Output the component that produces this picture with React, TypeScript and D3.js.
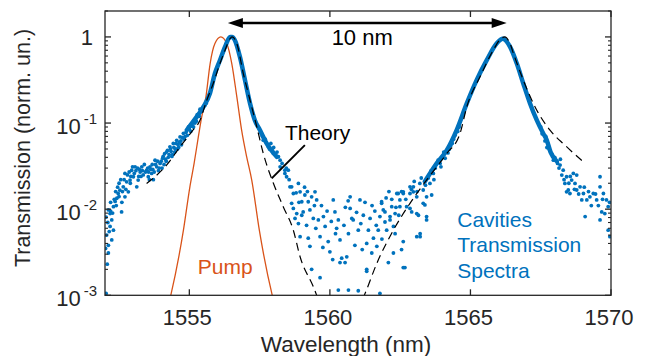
import React from 'react';
import * as d3 from 'd3';

const W = 647;
const H = 356;
const M = { left: 105, right: 611, top: 11, bottom: 295.3 };

const xDomain: [number, number] = [1552, 1570];
const yDomain: [number, number] = [1e-3, 2];
const xTicks = [1555, 1560, 1565, 1570];
const yTicks = [1, 0.1, 0.01, 0.001];
const yTickExp = [0, -1, -2, -3];

// Pump spectrum (orange)
const pumpWl = [1554.1, 1554.34, 1554.79, 1555.02, 1555.17, 1555.32, 1555.44, 1555.59, 1555.74, 1555.91, 1556.12, 1556.33, 1556.51, 1556.69, 1556.86, 1557.04, 1557.22, 1557.49, 1557.95, 1558.2];
const pumpT = [0.0005, 0.001, 0.0057, 0.0182, 0.034, 0.069, 0.118, 0.201, 0.491, 0.838, 1.0, 0.838, 0.491, 0.201, 0.0827, 0.0405, 0.0218, 0.0057, 0.001, 0.0005];

// Theory (black dashed)
const theoryWl = [1553.48, 1554.19, 1554.67, 1555.08, 1555.38, 1555.62, 1555.85, 1556.09, 1556.27, 1556.45, 1556.52, 1556.69, 1556.92, 1557.16, 1557.4, 1557.63, 1557.99, 1558.34, 1558.7, 1558.94, 1559.41, 1559.8, 1560.4, 1560.9, 1561.25, 1561.67, 1562.26, 1562.85, 1563.44, 1564.16, 1564.63, 1564.87, 1565.34, 1565.81, 1566.05, 1566.22, 1566.4, 1566.53, 1566.88, 1567.36, 1567.83, 1568.36, 1569.04];
const theoryT = [0.0199, 0.0325, 0.053, 0.079, 0.108, 0.184, 0.288, 0.491, 0.7, 0.958, 1.0, 0.838, 0.376, 0.184, 0.0903, 0.0444, 0.02, 0.0107, 0.0057, 0.0028, 0.00126, 0.0006, 0.0003, 0.0006, 0.00105, 0.00235, 0.00572, 0.0117, 0.0218, 0.0444, 0.0757, 0.154, 0.344, 0.7, 0.93, 1.0, 0.85, 0.642, 0.315, 0.141, 0.0827, 0.0554, 0.0349];

// Measured cavities transmission: dense parts of the trace
const coreLeftWl = [1554.91, 1555.26, 1555.5, 1555.73, 1555.91, 1556.09, 1556.27, 1556.45, 1556.52, 1556.62, 1556.8, 1556.98, 1557.16, 1557.33, 1557.51, 1557.75, 1558.11];
const coreLeftT = [0.083, 0.118, 0.154, 0.22, 0.376, 0.537, 0.766, 1.0, 1.0, 0.916, 0.586, 0.315, 0.169, 0.108, 0.083, 0.058, 0.0406];
const coreRightWl = [1563.38, 1563.56, 1563.8, 1564.16, 1564.51, 1564.87, 1565.22, 1565.58, 1565.93, 1566.15, 1566.41, 1566.65, 1566.88, 1567.12, 1567.36, 1567.59, 1567.71, 1567.85, 1568.07];
const coreRightT = [0.021, 0.026, 0.034, 0.0485, 0.083, 0.169, 0.315, 0.537, 0.838, 0.95, 0.766, 0.491, 0.288, 0.169, 0.108, 0.0757, 0.064, 0.046, 0.036];

// Measured cavities transmission: scattered samples
const spectrumScatter: [number, number][] = [
  // left edge
  [1552.04, 0.00105], [1552.08, 0.0023], [1552.12, 0.0031], [1552.12, 0.0038], [1552.24, 0.0044], [1552.3, 0.0057],
  [1552.18, 0.0063], [1552.24, 0.0075], [1552.04, 0.0081], [1552.12, 0.0098], [1552.18, 0.0089], [1552.3, 0.0107],
  [1552.36, 0.0123], [1552.42, 0.0134], [1552.47, 0.0152], [1552.59, 0.0093], [1552.53, 0.0166], [1552.65, 0.0182],
  [1552.71, 0.0139], [1552.77, 0.0208], [1552.83, 0.0159], [1552.71, 0.026], [1552.89, 0.0218], [1552.95, 0.0283],
  [1553.01, 0.0238], [1553.07, 0.031], [1553.13, 0.0182], [1553.18, 0.0218], [1553.25, 0.027], [1553.31, 0.031],
  [1553.36, 0.025], [1553.48, 0.0283], [1553.54, 0.0238], [1553.6, 0.031], [1553.66, 0.026], [1553.72, 0.022],
  [1552.02, 0.0035], [1552.06, 0.005], [1552.1, 0.007], [1552.15, 0.0055], [1552.2, 0.012], [1552.27, 0.009],
  [1552.33, 0.013], [1552.38, 0.016], [1552.45, 0.018], [1552.5, 0.02], [1552.56, 0.022], [1552.62, 0.016],
  [1552.68, 0.022], [1552.74, 0.017], [1552.8, 0.025], [1552.86, 0.027], [1552.92, 0.024], [1552.98, 0.031],
  [1553.04, 0.026], [1553.1, 0.028], [1553.16, 0.03], [1553.22, 0.029], [1553.28, 0.024], [1553.33, 0.028],
  [1553.44, 0.027], [1552.9, 0.02], [1553.2, 0.024], [1552.6, 0.012], [1552.5, 0.014], [1552.4, 0.011], [1552.2, 0.0095],
  // rising band of the first cavity
  [1553.78, 0.037], [1553.84, 0.031], [1553.96, 0.034], [1554.07, 0.041], [1554.19, 0.046], [1554.31, 0.053],
  [1554.43, 0.058], [1554.55, 0.063], [1554.67, 0.069], [1554.79, 0.076], [1553.9, 0.028], [1554.0, 0.036],
  [1554.1, 0.033], [1554.25, 0.04], [1554.35, 0.047], [1554.5, 0.05], [1554.6, 0.056], [1554.7, 0.062],
  [1554.85, 0.07], [1555.0, 0.085], [1555.1, 0.092], [1555.2, 0.1], [1555.3, 0.12], [1555.4, 0.135],
  [1553.4, 0.033], [1553.55, 0.027], [1553.7, 0.029], [1554.15, 0.038], [1554.4, 0.043], [1554.62, 0.052],
  [1553.52, 0.03], [1553.58, 0.022], [1553.63, 0.029], [1553.68, 0.033], [1553.75, 0.027], [1553.8, 0.033],
  [1553.87, 0.036], [1553.93, 0.03], [1554.03, 0.03], [1554.05, 0.039], [1554.12, 0.044], [1554.18, 0.036],
  [1554.22, 0.048], [1554.28, 0.043], [1554.33, 0.05], [1554.38, 0.041], [1554.45, 0.052], [1554.48, 0.046],
  [1554.53, 0.058], [1554.58, 0.05], [1554.65, 0.06], [1554.72, 0.056], [1554.75, 0.068], [1554.82, 0.065],
  [1554.88, 0.078], [1554.93, 0.072], [1554.97, 0.09], [1555.05, 0.08], [1555.08, 0.098], [1555.15, 0.09],
  [1555.18, 0.108], [1555.25, 0.105], [1555.28, 0.125], [1555.35, 0.12], [1555.38, 0.145], [1555.45, 0.14],
  [1555.55, 0.16], [1555.6, 0.17],
  // around the Theory pointer
  [1557.63, 0.0633], [1557.81, 0.053], [1557.99, 0.0444], [1558.17, 0.0406], [1558.23, 0.0371], [1558.4, 0.0284],
  [1558.46, 0.0238], [1558.58, 0.0182], [1558.7, 0.0152], [1558.64, 0.0117], [1558.88, 0.0068], [1557.6, 0.07],
  [1557.7, 0.065], [1557.85, 0.05], [1557.95, 0.048], [1558.05, 0.043], [1557.55, 0.078], [1557.9, 0.058],
  [1558.0, 0.052], [1558.12, 0.046], [1558.3, 0.034], [1558.45, 0.03],
  // middle region
  [1558.23, 0.031], [1558.4, 0.026], [1558.52, 0.0284], [1558.64, 0.0182], [1558.88, 0.0199], [1558.94, 0.0159],
  [1558.7, 0.0102], [1558.82, 0.0089], [1558.76, 0.0078], [1559.0, 0.0122], [1559.11, 0.0146], [1559.23, 0.0122],
  [1559.35, 0.0139], [1559.47, 0.0159], [1559.53, 0.0128], [1559.05, 0.0093], [1559.29, 0.0098], [1559.41, 0.0078],
  [1559.59, 0.0075], [1558.94, 0.0048], [1559.17, 0.0065], [1559.23, 0.0046], [1559.29, 0.0037], [1559.65, 0.0048],
  [1559.77, 0.0082], [1559.83, 0.0063], [1559.94, 0.0042], [1560.0, 0.0032], [1560.12, 0.0128], [1560.18, 0.0093],
  [1560.24, 0.006], [1560.36, 0.0044], [1560.42, 0.0027], [1560.54, 0.0024], [1560.6, 0.0028], [1560.72, 0.0139],
  [1560.72, 0.0102], [1560.78, 0.0078], [1560.83, 0.0075], [1560.66, 0.0052], [1560.89, 0.0038], [1561.01, 0.0057],
  [1561.07, 0.0128], [1561.19, 0.0085], [1561.31, 0.004], [1561.37, 0.0057], [1561.43, 0.0078], [1561.49, 0.0031],
  [1561.31, 0.002], [1561.67, 0.0037], [1561.72, 0.0057], [1561.78, 0.0082], [1561.84, 0.0122], [1561.9, 0.0098],
  [1561.96, 0.0071], [1562.02, 0.0057], [1562.14, 0.0075], [1562.2, 0.0107], [1562.26, 0.0063], [1562.32, 0.0089],
  [1562.38, 0.0152], [1562.49, 0.0128], [1562.61, 0.0159], [1562.73, 0.0107], [1562.85, 0.0152], [1562.91, 0.0093],
  [1562.97, 0.0182], [1563.09, 0.0139], [1563.15, 0.0085], [1563.21, 0.0052], [1563.32, 0.0167], [1563.38, 0.0112],
  [1563.44, 0.0082], [1563.62, 0.0146], [1562.26, 0.0031], [1562.08, 0.0024], [1562.61, 0.0021], [1562.61, 0.0042],
  [1563.09, 0.0048], [1559.65, 0.0016], [1559.35, 0.002], [1560.36, 0.0024], [1560.3, 0.00115], [1560.66, 0.00115],
  [1561.01, 0.00113], [1561.78, 0.00105], [1561.31, 0.0019],
  [1559.1, 0.018], [1559.2, 0.016], [1559.45, 0.011], [1559.7, 0.011], [1559.9, 0.0095], [1560.05, 0.0072],
  [1560.2, 0.0052], [1560.3, 0.0075], [1560.5, 0.0065], [1560.55, 0.0105], [1560.65, 0.0125], [1560.95, 0.0092],
  [1561.1, 0.0068], [1561.25, 0.012], [1561.5, 0.011], [1561.6, 0.0095], [1561.65, 0.0065], [1561.85, 0.0045],
  [1562.0, 0.0135], [1562.1, 0.016], [1562.2, 0.013], [1562.35, 0.0105], [1562.45, 0.0085], [1562.55, 0.016],
  [1562.7, 0.013], [1559.5, 0.006], [1559.75, 0.0036], [1560.1, 0.0026], [1561.15, 0.0034], [1561.55, 0.0046],
  [1558.9, 0.012], [1559.0, 0.0085], [1558.8, 0.0155], [1558.55, 0.022],
  // rising edge of the second cavity
  [1561.84, 0.0117], [1561.96, 0.0093], [1562.14, 0.0082], [1562.32, 0.0052], [1562.55, 0.0034], [1562.67, 0.0021],
  [1562.43, 0.0152], [1562.61, 0.0152], [1562.85, 0.0182], [1562.97, 0.0159], [1562.49, 0.0107], [1562.85, 0.0102],
  [1563.09, 0.0089], [1563.21, 0.0048], [1563.44, 0.0075], [1563.32, 0.0117], [1563.56, 0.0199], [1563.68, 0.026],
  [1563.92, 0.034], [1563.44, 0.0139], [1564.0, 0.04], [1564.3, 0.055], [1564.4, 0.065], [1563.75, 0.03],
  [1564.2, 0.045], [1563.2, 0.0199], [1563.5, 0.023], [1562.9, 0.017], [1563.0, 0.021], [1563.1, 0.016],
  [1563.25, 0.023], [1563.4, 0.019], [1563.6, 0.028], [1563.7, 0.022], [1563.85, 0.037], [1563.95, 0.031],
  [1564.05, 0.046], [1564.1, 0.039], [1564.25, 0.05], [1564.35, 0.058], [1564.45, 0.072], [1564.55, 0.08],
  [1564.6, 0.09],
  // right tail
  [1567.95, 0.0371], [1568.19, 0.0325], [1568.3, 0.0284], [1568.25, 0.0249], [1568.42, 0.0238], [1568.36, 0.0199],
  [1568.48, 0.0167], [1568.6, 0.0218], [1568.72, 0.0199], [1568.78, 0.0167], [1568.42, 0.0159], [1568.9, 0.0182],
  [1569.02, 0.0152], [1569.14, 0.0128], [1568.96, 0.0128], [1569.25, 0.0139], [1569.37, 0.0152], [1569.49, 0.0128],
  [1569.61, 0.0238], [1569.61, 0.0182], [1569.73, 0.0152], [1569.84, 0.0128], [1569.9, 0.0107], [1569.08, 0.0082],
  [1569.61, 0.0075], [1569.67, 0.0093], [1569.78, 0.0089], [1569.9, 0.0057], [1569.96, 0.0048], [1568.54, 0.0152],
  [1568.66, 0.026], [1568.78, 0.0249], [1568.1, 0.034], [1568.0, 0.04], [1567.9, 0.043], [1567.8, 0.05],
  [1567.75, 0.058], [1567.68, 0.07], [1567.5, 0.09], [1567.55, 0.075], [1567.65, 0.062], [1567.72, 0.052],
  [1568.15, 0.03], [1568.2, 0.038], [1568.33, 0.022], [1568.5, 0.02], [1568.55, 0.024], [1568.7, 0.017],
  [1568.85, 0.015], [1569.05, 0.018], [1569.2, 0.016], [1569.3, 0.011], [1569.45, 0.015], [1569.55, 0.011],
  [1569.7, 0.013], [1569.95, 0.012],
];

// Annotations (data coordinates)
const arrowSpan: [number, number] = [1556.37, 1566.29];
const arrowLevel = 1.45;
const spanLabel = { text: '10 nm', wl: 1561.15, t: 0.8 };
const theoryLabel = { text: 'Theory', wl: 1558.4, t: 0.0633 };
const theoryPointer: [number, number][] = [[1557.93, 0.0228], [1559.11, 0.0554]];
const pumpLabel = { text: 'Pump', wl: 1555.3, t: 0.00177 };
const cavityLabel = { lines: ['Cavities', 'Transmission', 'Spectra'], wl: 1564.53, t: [0.00625, 0.00315, 0.00157] };

const FONT = "'Liberation Sans', Arial, Helvetica, sans-serif";
const BLUE = '#0072BD';
const ORANGE = '#D95319';
const AXIS = '#262626';

const zip = (a: number[], b: number[]): [number, number][] => a.map((v, i) => [v, b[i]]);

export default function App() {
  const x = d3.scaleLinear().domain(xDomain).range([M.left, M.right]);
  const y = d3.scaleLog().domain(yDomain).range([M.bottom, M.top]);
  const line = d3
    .line<[number, number]>()
    .x((d) => x(d[0]))
    .y((d) => y(d[1]))
    .curve(d3.curveMonotoneX);
  const straight = d3
    .line<[number, number]>()
    .x((d) => x(d[0]))
    .y((d) => y(d[1]));

  const minor = y.ticks().filter((v) => Math.abs(Math.log10(v) - Math.round(Math.log10(v))) > 1e-6);

  const ax1 = x(arrowSpan[0]);
  const ax2 = x(arrowSpan[1]);
  const ay = y(arrowLevel);
  const hl = 15;
  const hw = 5;

  return (
    <svg width={W} height={H} style={{ position: 'absolute', left: 0, top: 0, background: '#fff' }} fontFamily={FONT}>
      <defs>
        <clipPath id="plot">
          <rect x={M.left} y={M.top} width={M.right - M.left} height={M.bottom - M.top} />
        </clipPath>
      </defs>
      <rect x={0} y={0} width={W} height={H} fill="#fff" />

      <g clipPath="url(#plot)">
        <path d={line(zip(pumpWl, pumpT)) || ''} fill="none" stroke={ORANGE} strokeWidth={1.3} />
        {spectrumScatter.map((d, i) => (
          <circle key={i} cx={x(d[0])} cy={y(d[1])} r={1.9} fill={BLUE} />
        ))}
        <path d={line(zip(coreLeftWl, coreLeftT)) || ''} fill="none" stroke={BLUE} strokeWidth={4.5} strokeLinecap="round" strokeLinejoin="round" />
        <path d={line(zip(coreRightWl, coreRightT)) || ''} fill="none" stroke={BLUE} strokeWidth={4.5} strokeLinecap="round" strokeLinejoin="round" />
        <path d={line(zip(theoryWl, theoryT)) || ''} fill="none" stroke="#000" strokeWidth={1.2} strokeDasharray="8,5" />
      </g>

      {/* annotations */}
      <line x1={ax1 + hl - 1} x2={ax2 - hl + 1} y1={ay} y2={ay} stroke="#000" strokeWidth={2.5} />
      <polygon points={`${ax1},${ay} ${ax1 + hl},${ay - hw} ${ax1 + hl},${ay + hw}`} fill="#000" />
      <polygon points={`${ax2},${ay} ${ax2 - hl},${ay - hw} ${ax2 - hl},${ay + hw}`} fill="#000" />
      <text x={x(spanLabel.wl)} y={y(spanLabel.t)} fontSize={22} textAnchor="middle" fill="#000">{spanLabel.text}</text>
      <text x={x(theoryLabel.wl)} y={y(theoryLabel.t)} fontSize={21} fill="#000">{theoryLabel.text}</text>
      <path d={straight(theoryPointer) || ''} stroke="#000" strokeWidth={2} fill="none" />
      <text x={x(pumpLabel.wl)} y={y(pumpLabel.t)} fontSize={21} fill={ORANGE}>{pumpLabel.text}</text>
      {cavityLabel.lines.map((s, i) => (
        <text key={s} x={x(cavityLabel.wl)} y={y(cavityLabel.t[i])} fontSize={21} fill={BLUE}>{s}</text>
      ))}

      {/* axes box */}
      <rect x={M.left} y={M.top} width={M.right - M.left} height={M.bottom - M.top} fill="none" stroke={AXIS} strokeWidth={1.3} />
      {xTicks.map((t) => (
        <g key={t}>
          <line x1={x(t)} x2={x(t)} y1={M.bottom} y2={M.bottom - 6} stroke={AXIS} strokeWidth={1.3} />
          <line x1={x(t)} x2={x(t)} y1={M.top} y2={M.top + 6} stroke={AXIS} strokeWidth={1.3} />
          <text x={x(t) - 2} y={M.bottom + 30} fontSize={22} textAnchor="middle" fill={AXIS}>{t}</text>
        </g>
      ))}
      {yTicks.map((t, i) => (
        <g key={t}>
          <line x1={M.left} x2={M.left + 6} y1={y(t)} y2={y(t)} stroke={AXIS} strokeWidth={1.3} />
          <line x1={M.right} x2={M.right - 6} y1={y(t)} y2={y(t)} stroke={AXIS} strokeWidth={1.3} />
          {yTickExp[i] === 0 ? (
            <text x={M.left - 12} y={y(t) + 8} fontSize={22} textAnchor="end" fill={AXIS}>1</text>
          ) : (
            <text x={M.left - 8} y={y(t) + 11} fontSize={22} textAnchor="end" fill={AXIS}>
              10
              <tspan fontSize={15} dx={3} dy={-10}>{String(yTickExp[i])}</tspan>
            </text>
          )}
        </g>
      ))}
      {minor.map((t) => (
        <g key={'m' + t}>
          <line x1={M.left} x2={M.left + 3} y1={y(t)} y2={y(t)} stroke={AXIS} strokeWidth={1.1} />
          <line x1={M.right} x2={M.right - 3} y1={y(t)} y2={y(t)} stroke={AXIS} strokeWidth={1.1} />
        </g>
      ))}
      <text x={346} y={351.5} fontSize={22.5} textAnchor="middle" fill={AXIS}>Wavelength (nm)</text>
      <text transform={`translate(30,148) rotate(-90)`} fontSize={21.5} textAnchor="middle" fill={AXIS}>Transmission (norm. un.)</text>
    </svg>
  );
}
